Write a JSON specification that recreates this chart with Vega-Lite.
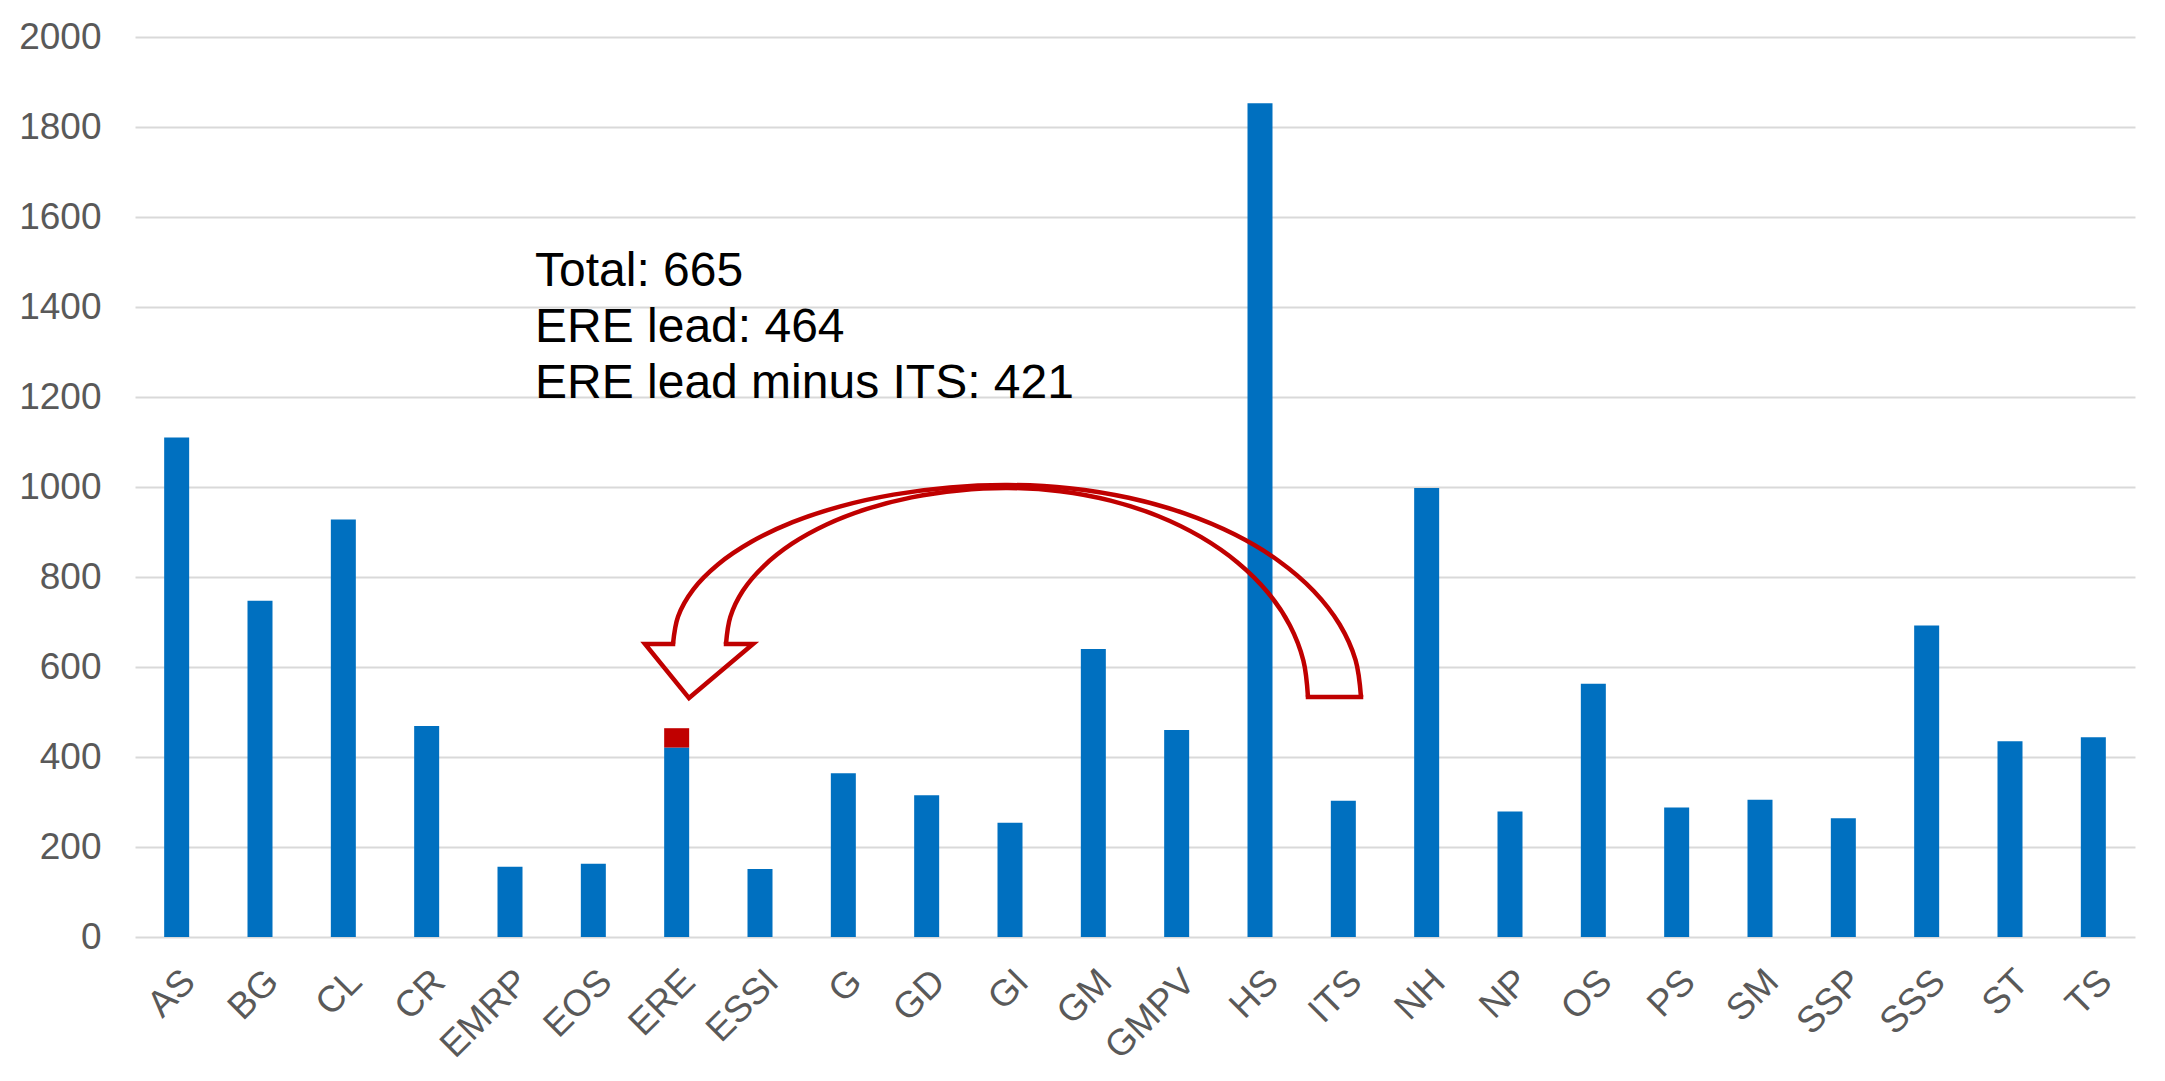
{
  "$schema": "https://vega.github.io/schema/vega-lite/v6.json",
  "width": 2000,
  "height": 900,
  "autosize": {"type": "none"},
  "padding": {"left": 135, "top": 37, "right": 30, "bottom": 144},
  "background": "white",
  "config": {
    "view": {"stroke": null},
    "font": "Liberation Sans"
  },
  "datasets": {
    "bars": [
      {"cat": "AS", "v": 1110, "part": "main", "o": 1},
      {"cat": "BG", "v": 747, "part": "main", "o": 1},
      {"cat": "CL", "v": 928, "part": "main", "o": 1},
      {"cat": "CR", "v": 469, "part": "main", "o": 1},
      {"cat": "EMRP", "v": 156, "part": "main", "o": 1},
      {"cat": "EOS", "v": 163, "part": "main", "o": 1},
      {"cat": "ERE", "v": 421, "part": "main", "o": 1},
      {"cat": "ERE", "v": 43, "part": "lead", "o": 2},
      {"cat": "ESSI", "v": 151, "part": "main", "o": 1},
      {"cat": "G", "v": 364, "part": "main", "o": 1},
      {"cat": "GD", "v": 315, "part": "main", "o": 1},
      {"cat": "GI", "v": 254, "part": "main", "o": 1},
      {"cat": "GM", "v": 640, "part": "main", "o": 1},
      {"cat": "GMPV", "v": 460, "part": "main", "o": 1},
      {"cat": "HS", "v": 1853, "part": "main", "o": 1},
      {"cat": "ITS", "v": 303, "part": "main", "o": 1},
      {"cat": "NH", "v": 998, "part": "main", "o": 1},
      {"cat": "NP", "v": 279, "part": "main", "o": 1},
      {"cat": "OS", "v": 563, "part": "main", "o": 1},
      {"cat": "PS", "v": 288, "part": "main", "o": 1},
      {"cat": "SM", "v": 305, "part": "main", "o": 1},
      {"cat": "SSP", "v": 264, "part": "main", "o": 1},
      {"cat": "SSS", "v": 692, "part": "main", "o": 1},
      {"cat": "ST", "v": 435, "part": "main", "o": 1},
      {"cat": "TS", "v": 444, "part": "main", "o": 1}
    ],
    "arcs": [
      {"arc": "outer", "i": 1, "x": 6.456, "y": 651.1},
      {"arc": "outer", "i": 2, "x": 6.517, "y": 712.4},
      {"arc": "outer", "i": 3, "x": 6.698, "y": 772.0},
      {"arc": "outer", "i": 4, "x": 6.995, "y": 827.8},
      {"arc": "outer", "i": 5, "x": 7.397, "y": 878.2},
      {"arc": "outer", "i": 6, "x": 7.892, "y": 921.8},
      {"arc": "outer", "i": 7, "x": 8.466, "y": 957.1},
      {"arc": "outer", "i": 8, "x": 9.101, "y": 983.1},
      {"arc": "outer", "i": 9, "x": 9.778, "y": 999.1},
      {"arc": "outer", "i": 10, "x": 10.476, "y": 1004.4},
      {"arc": "outer", "i": 11, "x": 11.212, "y": 997.3},
      {"arc": "outer", "i": 12, "x": 11.924, "y": 976.0},
      {"arc": "outer", "i": 13, "x": 12.594, "y": 941.3},
      {"arc": "outer", "i": 14, "x": 13.199, "y": 894.2},
      {"arc": "outer", "i": 15, "x": 13.721, "y": 836.2},
      {"arc": "outer", "i": 16, "x": 14.144, "y": 768.9},
      {"arc": "outer", "i": 17, "x": 14.456, "y": 694.4},
      {"arc": "outer", "i": 18, "x": 14.647, "y": 615.1},
      {"arc": "outer", "i": 19, "x": 14.712, "y": 533.3},
      {"arc": "inner", "i": 1, "x": 7.092, "y": 651.1},
      {"arc": "inner", "i": 2, "x": 7.144, "y": 711.3},
      {"arc": "inner", "i": 3, "x": 7.296, "y": 769.8},
      {"arc": "inner", "i": 4, "x": 7.546, "y": 824.4},
      {"arc": "inner", "i": 5, "x": 7.884, "y": 874.0},
      {"arc": "inner", "i": 6, "x": 8.300, "y": 916.7},
      {"arc": "inner", "i": 7, "x": 8.784, "y": 951.3},
      {"arc": "inner", "i": 8, "x": 9.319, "y": 976.9},
      {"arc": "inner", "i": 9, "x": 9.888, "y": 992.4},
      {"arc": "inner", "i": 10, "x": 10.476, "y": 997.8},
      {"arc": "inner", "i": 11, "x": 11.101, "y": 990.7},
      {"arc": "inner", "i": 12, "x": 11.707, "y": 969.8},
      {"arc": "inner", "i": 13, "x": 12.276, "y": 935.6},
      {"arc": "inner", "i": 14, "x": 12.790, "y": 889.1},
      {"arc": "inner", "i": 15, "x": 13.234, "y": 831.8},
      {"arc": "inner", "i": 16, "x": 13.594, "y": 765.6},
      {"arc": "inner", "i": 17, "x": 13.859, "y": 692.2},
      {"arc": "inner", "i": 18, "x": 14.021, "y": 614.0},
      {"arc": "inner", "i": 19, "x": 14.076, "y": 533.3}
    ],
    "segs": [
      {"seg": "head", "i": 1, "x": 7.092, "y": 651.1},
      {"seg": "head", "i": 2, "x": 7.416, "y": 651.1},
      {"seg": "head", "i": 3, "x": 6.648, "y": 531},
      {"seg": "head", "i": 4, "x": 6.12, "y": 651.1},
      {"seg": "head", "i": 5, "x": 6.456, "y": 651.1},
      {"seg": "tail", "i": 1, "x": 14.712, "y": 533.3},
      {"seg": "tail", "i": 2, "x": 14.076, "y": 533.3}
    ],
    "notes": [
      {"t": "Total: 665", "x": 4.8, "y": 1447},
      {"t": "ERE lead: 464", "x": 4.8, "y": 1322},
      {"t": "ERE lead minus ITS: 421", "x": 4.8, "y": 1198}
    ]
  },
  "layer": [
    {
      "data": {"name": "bars"},
      "mark": {"type": "bar"},
      "encoding": {
        "x": {
          "field": "cat",
          "type": "nominal",
          "sort": null,
          "scale": {"paddingInner": 0.7, "paddingOuter": 0.35},
          "axis": {
            "title": null,
            "labelAngle": -45,
            "labelFontSize": 37,
            "labelColor": "#595959",
            "labelPadding": 26,
            "ticks": false,
            "domain": false,
            "grid": false
          }
        },
        "y": {
          "field": "v",
          "type": "quantitative",
          "stack": "zero",
          "scale": {"domain": [0, 2000], "nice": false},
          "axis": {
            "title": null,
            "format": "d",
            "values": [0, 200, 400, 600, 800, 1000, 1200, 1400, 1600, 1800, 2000],
            "labelFontSize": 37,
            "labelColor": "#595959",
            "labelPadding": 34,
            "ticks": false,
            "domain": false,
            "grid": true,
            "gridColor": "#D9D9D9",
            "gridWidth": 2
          }
        },
        "color": {
          "field": "part",
          "type": "nominal",
          "scale": {"domain": ["main", "lead"], "range": ["#0070C0", "#C00000"]},
          "legend": null
        },
        "order": {"field": "o", "type": "quantitative"}
      }
    },
    {
      "layer": [
        {
          "data": {"name": "arcs"},
          "mark": {"type": "line", "interpolate": "catmull-rom", "color": "#C00000", "strokeWidth": 4.5},
          "encoding": {
            "x": {"field": "x", "type": "quantitative", "scale": {"domain": [0, 24], "nice": false, "zero": false}, "axis": null},
            "y": {"field": "y", "type": "quantitative", "title": null},
            "detail": {"field": "arc", "type": "nominal"},
            "order": {"field": "i", "type": "quantitative"}
          }
        },
        {
          "data": {"name": "segs"},
          "mark": {"type": "line", "color": "#C00000", "strokeWidth": 4.5, "strokeJoin": "miter", "strokeCap": "square"},
          "encoding": {
            "x": {"field": "x", "type": "quantitative", "axis": null},
            "y": {"field": "y", "type": "quantitative", "title": null},
            "detail": {"field": "seg", "type": "nominal"},
            "order": {"field": "i", "type": "quantitative"}
          }
        },
        {
          "data": {"name": "notes"},
          "mark": {"type": "text", "align": "left", "baseline": "alphabetic", "fontSize": 48, "color": "#000000", "font": "Liberation Sans"},
          "encoding": {
            "x": {"field": "x", "type": "quantitative", "axis": null},
            "y": {"field": "y", "type": "quantitative", "title": null},
            "text": {"field": "t"}
          }
        }
      ]
    }
  ],
  "resolve": {"scale": {"x": "independent"}, "axis": {"x": "independent"}}
}
